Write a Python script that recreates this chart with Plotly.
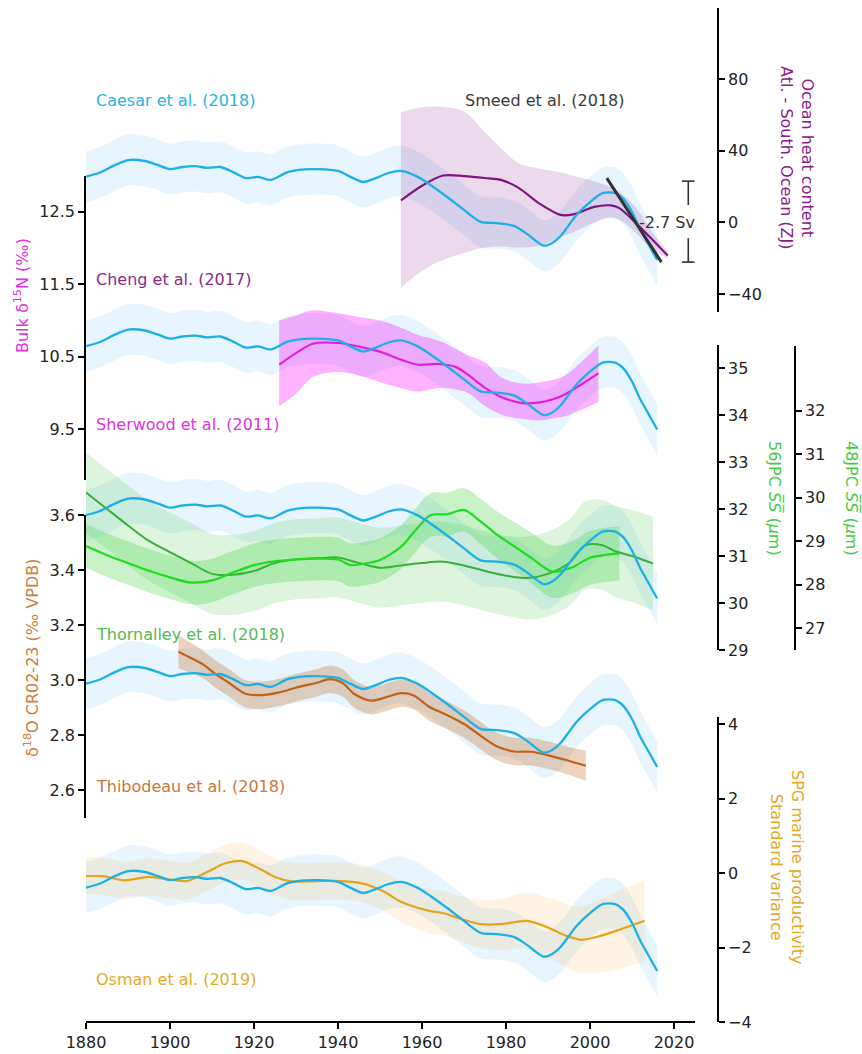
import plotly.graph_objects as go

# ---------------- DATA ----------------
# Caesar et al. (2018) AMOC index (Sv anomaly), same curve repeated in every panel
caesar_years = [1880, 1883, 1887, 1890, 1894, 1897, 1900, 1903, 1906, 1909, 1912, 1915, 1918, 1921,
                1924, 1928, 1932, 1935, 1940, 1943, 1946, 1949, 1952, 1955, 1959, 1962, 1966, 1970,
                1974, 1978, 1982, 1985, 1989, 1991, 1993, 1995, 1997, 2000, 2003, 2006, 2008, 2010,
                2012, 2014, 2016]
caesar_sv = [1.28, 1.40, 1.67, 1.83, 1.80, 1.67, 1.53, 1.60, 1.63, 1.57, 1.60, 1.43, 1.23, 1.27,
             1.17, 1.43, 1.52, 1.53, 1.47, 1.27, 1.10, 1.23, 1.40, 1.47, 1.27, 1.00, 0.60, 0.17,
             -0.23, -0.27, -0.37, -0.63, -1.02, -0.93, -0.70, -0.33, 0.03, 0.43, 0.73, 0.73, 0.53, 0.10,
             -0.50, -1.00, -1.50]
caesar_sigma = 0.85

# Smeed et al. (2018) RAPID trend (Sv)
smeed_years = [2004, 2017]
smeed_sv = [1.23, -1.57]
smeed_bracket_sv = [1.13, -1.57]   # -2.7 Sv

# Cheng et al. (2017) ocean heat content Atl. - South. Ocean (ZJ)
cheng_years = [1955, 1960, 1965, 1970, 1975, 1979, 1983, 1988, 1993, 1996, 2001, 2005, 2007, 2011, 2015, 2018.5]
cheng_zj = [12.3, 20.5, 26.2, 25.9, 24.8, 23.6, 19.3, 10.5, 4.2, 4.5, 8.7, 9.5, 8.0, -0.5, -10.0, -18.5]
cheng_hi = [61.5, 64.3, 64.5, 62.0, 50.3, 41.0, 33.0, 30.0, 28.0, 26.0, 23.0, 19.6, 17.0, 8.0, -6.0, -16.0]
cheng_lo = [-36.4, -27.0, -21.0, -17.0, -14.0, -13.5, -14.0, -13.0, -8.0, -5.5, 0.0, 2.8, 1.5, -6.0, -15.7, -20.0]

# Sherwood et al. (2011) bulk d15N (permil)
sher_years = [1926, 1930, 1934, 1940, 1945, 1950, 1955, 1959, 1964, 1968, 1971, 1975, 1979, 1984, 1988,
              1991, 1994, 1998, 2002]
sher_d15n = [10.39, 10.55, 10.68, 10.69, 10.64, 10.57, 10.46, 10.39, 10.40, 10.36, 10.25, 10.07, 9.94,
             9.86, 9.87, 9.91, 9.98, 10.12, 10.27]
sher_lo = [9.82, 9.99, 10.22, 10.29, 10.24, 10.15, 10.07, 10.02, 10.07, 10.05, 10.00, 9.82, 9.70, 9.64,
           9.62, 9.65, 9.68, 9.77, 9.88]
sher_hi = [11.00, 11.07, 11.14, 11.10, 11.05, 11.00, 10.90, 10.80, 10.72, 10.61, 10.52, 10.42, 10.21,
           10.13, 10.15, 10.18, 10.24, 10.43, 10.66]

# Thornalley et al. (2018) sortable silt (um)
jpc56_years = [1880, 1885, 1890, 1895, 1900, 1905, 1910, 1915, 1920, 1925, 1930, 1935, 1940, 1945, 1950,
               1955, 1960, 1965, 1970, 1975, 1980, 1985, 1990, 1995, 1999, 2003, 2006, 2010, 2015]
jpc56_ss = [32.35, 32.00, 31.65, 31.32, 31.08, 30.85, 30.62, 30.60, 30.68, 30.85, 30.93, 30.95, 30.97,
            30.85, 30.75, 30.80, 30.85, 30.88, 30.80, 30.68, 30.58, 30.53, 30.62, 30.85, 31.23, 31.23,
            31.10, 31.00, 30.84]
jpc56_err = [0.85, 0.85, 0.85, 0.85, 0.85, 0.85, 0.85, 0.85, 0.85, 0.85, 0.85, 0.85, 0.85, 0.85, 0.85,
             0.85, 0.85, 0.85, 0.85, 0.85, 0.85, 0.88, 0.9, 0.92, 0.94, 0.96, 0.97, 0.98, 1.0]
jpc48_years = [1880, 1885, 1890, 1895, 1900, 1905, 1910, 1915, 1920, 1925, 1930, 1935, 1940, 1943, 1947,
               1950, 1955, 1958, 1962, 1966, 1970, 1974, 1978, 1982, 1986, 1991, 1996, 2000, 2007]
jpc48_ss = [28.89, 28.68, 28.50, 28.32, 28.17, 28.05, 28.10, 28.28, 28.45, 28.54, 28.58, 28.60, 28.58,
            28.45, 28.50, 28.57, 28.87, 29.20, 29.60, 29.62, 29.72, 29.45, 29.14, 28.88, 28.62, 28.30,
            28.41, 28.62, 28.72]
jpc48_err = [0.5, 0.5, 0.5, 0.5, 0.5, 0.5, 0.5, 0.5, 0.5, 0.5, 0.5, 0.5, 0.5, 0.5, 0.5, 0.5, 0.5, 0.5,
             0.5, 0.5, 0.5, 0.52, 0.54, 0.56, 0.58, 0.6, 0.6, 0.62, 0.62]

# Thibodeau et al. (2018) d18O CR02-23 (permil VPDB)
thib_years = [1902, 1905, 1908, 1911, 1914, 1918, 1922, 1926, 1930, 1935, 1938, 1941, 1944, 1948, 1952,
              1955, 1958, 1962, 1966, 1970, 1974, 1978, 1982, 1986, 1990, 1994, 1999]
thib_d18o = [3.103, 3.080, 3.055, 3.020, 2.990, 2.950, 2.945, 2.955, 2.972, 2.990, 3.003, 2.990, 2.948,
             2.925, 2.940, 2.952, 2.944, 2.900, 2.872, 2.840, 2.797, 2.757, 2.740, 2.739, 2.726, 2.710, 2.688]
thib_err = [0.06, 0.055, 0.05, 0.05, 0.05, 0.05, 0.05, 0.05, 0.05, 0.05, 0.05, 0.05, 0.05, 0.05, 0.05,
            0.05, 0.05, 0.05, 0.05, 0.05, 0.05, 0.05, 0.05, 0.05, 0.05, 0.05, 0.055]

# Osman et al. (2019) SPG marine productivity (standard variance)
osman_years = [1880, 1884, 1889, 1895, 1900, 1904, 1909, 1913, 1917, 1921, 1925, 1929, 1935, 1941, 1946,
               1951, 1955, 1962, 1965, 1969, 1974, 1979, 1985, 1990, 1994, 1998, 2002, 2007, 2013]
osman_sv = [-0.08, -0.08, -0.19, -0.10, -0.17, -0.21, 0.04, 0.26, 0.33, 0.14, -0.10, -0.22, -0.21, -0.21,
            -0.28, -0.50, -0.77, -1.02, -1.07, -1.22, -1.37, -1.37, -1.28, -1.46, -1.67, -1.79, -1.70,
            -1.52, -1.28]
osman_err = [0.5, 0.5, 0.5, 0.5, 0.5, 0.5, 0.5, 0.5, 0.5, 0.5, 0.5, 0.5, 0.5, 0.5, 0.5, 0.52, 0.55, 0.6,
             0.6, 0.6, 0.65, 0.7, 0.75, 0.8, 0.85, 0.9, 0.98, 1.05, 1.1]

x_ticks = [1880, 1900, 1920, 1940, 1960, 1980, 2000, 2020]
d15n_ticks = [9.5, 10.5, 11.5, 12.5]
d18o_ticks = [2.6, 2.8, 3.0, 3.2, 3.4, 3.6]
ohc_ticks = [-40, 0, 40, 80]
jpc56_ticks = [29, 30, 31, 32, 33, 34, 35]
jpc48_ticks = [27, 28, 29, 30, 31, 32]
spg_ticks = [-4, -2, 0, 2, 4]

# ---------------- LAYOUT GEOMETRY ----------------
W, H = 862, 1054
PB = 1022          # plot area bottom pixel (plot area spans pixel rows 0..PB)
FONT = "DejaVu Sans"


def fx(px):
    return px / W


def fy(py):
    return (PB - py) / PB


C_CAESAR = "#1db0e6"
C_CAESAR_BAND = "rgba(135,206,250,0.21)"
C_CHENG = "#7f157f"
C_SHER = "#e01ee0"
C_J56 = "#3cae3c"
C_J48 = "#1fdc1f"
C_THIB = "#c0621c"
C_OSMAN = "#e4a41c"

# axis ids: Caesar bands (hidden) first, then proxies, then Caesar lines (hidden) on top
band_axes = ["y", "y2", "y3", "y4", "y5"]
AX_D15N, AX_D18O, AX_OHC, AX_J56, AX_J48, AX_SPG = "y6", "y7", "y8", "y9", "y10", "y11"
line_axes = ["y12", "y13", "y14", "y15", "y16"]

fig = go.Figure()


def add_band(xs, lo, hi, color, yaxis):
    fig.add_trace(go.Scatter(x=xs, y=lo, mode="lines", line=dict(width=0, shape="spline"),
                             yaxis=yaxis, hoverinfo="skip", showlegend=False))
    fig.add_trace(go.Scatter(x=xs, y=hi, mode="lines", line=dict(width=0, shape="spline"),
                             fill="tonexty", fillcolor=color, yaxis=yaxis,
                             hoverinfo="skip", showlegend=False))


def add_line(xs, ys, color, yaxis, width=2.2):
    fig.add_trace(go.Scatter(x=xs, y=ys, mode="lines",
                             line=dict(color=color, width=width, shape="spline", smoothing=0.8),
                             yaxis=yaxis, hoverinfo="skip", showlegend=False))


# Caesar uncertainty bands (bottom layer)
c_lo = [v - caesar_sigma for v in caesar_sv]
c_hi = [v + caesar_sigma for v in caesar_sv]
for ax in band_axes:
    add_band(caesar_years, c_lo, c_hi, C_CAESAR_BAND, ax)

# Cheng (OHC)
add_band(cheng_years, cheng_lo, cheng_hi, "rgba(128,0,128,0.15)", AX_OHC)
add_line(cheng_years, cheng_zj, C_CHENG, AX_OHC)

# Sherwood (d15N)
add_band(sher_years, sher_lo, sher_hi, "rgba(255,0,255,0.30)", AX_D15N)
add_line(sher_years, sher_d15n, C_SHER, AX_D15N)

# Thornalley 56JPC and 48JPC
add_band(jpc56_years, [v - e for v, e in zip(jpc56_ss, jpc56_err)],
         [v + e for v, e in zip(jpc56_ss, jpc56_err)], "rgba(100,205,100,0.22)", AX_J56)
add_band(jpc48_years, [v - e for v, e in zip(jpc48_ss, jpc48_err)],
         [v + e for v, e in zip(jpc48_ss, jpc48_err)], "rgba(40,205,40,0.25)", AX_J48)
add_line(jpc56_years, jpc56_ss, C_J56, AX_J56, 2.0)
add_line(jpc48_years, jpc48_ss, C_J48, AX_J48, 2.2)

# Thibodeau (d18O)
add_band(thib_years, [v - e for v, e in zip(thib_d18o, thib_err)],
         [v + e for v, e in zip(thib_d18o, thib_err)], "rgba(195,105,40,0.30)", AX_D18O)
add_line(thib_years, thib_d18o, C_THIB, AX_D18O)

# Osman (SPG)
add_band(osman_years, [v - e for v, e in zip(osman_sv, osman_err)],
         [v + e for v, e in zip(osman_sv, osman_err)], "rgba(255,170,40,0.13)", AX_SPG)
add_line(osman_years, osman_sv, C_OSMAN, AX_SPG)

# Caesar lines (top layer)
for ax in line_axes:
    add_line(caesar_years, caesar_sv, C_CAESAR, ax, 2.3)

# Smeed trend and bracket on the top Caesar axis
fig.add_trace(go.Scatter(x=smeed_years, y=smeed_sv, mode="lines",
                         line=dict(color="#333333", width=3), yaxis=line_axes[0],
                         hoverinfo="skip", showlegend=False))
bx, cap = 2023.4, 1.5
top, bot = smeed_bracket_sv
gap_top, gap_bot = 0.33, -0.77
fig.add_trace(go.Scatter(
    x=[bx - cap, bx + cap, None, bx, bx, None, bx, bx, None, bx - cap, bx + cap],
    y=[top, top, None, top, gap_top, None, gap_bot, bot, None, bot, bot],
    mode="lines", line=dict(color="#333333", width=1.6), yaxis=line_axes[0],
    hoverinfo="skip", showlegend=False))

# ---------------- AXES ----------------
tickfont = dict(family=FONT, size=16, color="#222222")
common = dict(showline=True, linecolor="black", linewidth=1.7, ticks="outside", ticklen=6,
              tickwidth=1.6, tickcolor="black", tickfont=tickfont, showgrid=False,
              zeroline=False, automargin=False, fixedrange=True)


def key(ax):
    return "yaxis" + ax[1:]


layout = dict(
    width=W, height=H, margin=dict(l=0, r=0, t=0, b=H - PB), autosize=False,
    paper_bgcolor="white", plot_bgcolor="rgba(0,0,0,0)", template="none",
    font=dict(family=FONT, size=16, color="#222222"), showlegend=False,
    xaxis=dict(domain=[fx(86), fx(695)], range=[1880, 2025], tickvals=x_ticks,
               anchor="free", position=0, **common),
)
layout[key(AX_D15N)] = dict(domain=[fy(480), fy(175.5)], range=[8.8, 13.0], tickvals=d15n_ticks,
                            tickformat=".1f", anchor="x", side="left", **common)
layout[key(AX_D18O)] = dict(domain=[fy(817.5), fy(515)], range=[2.5, 3.6], tickvals=d18o_ticks,
                            tickformat=".1f", anchor="x", side="left", **common)
layout[key(AX_OHC)] = dict(domain=[fy(312), fy(7.5)], range=[-50, 120], tickvals=ohc_ticks,
                           anchor="free", position=fx(718), side="right", **common)
layout[key(AX_J56)] = dict(domain=[fy(650), fy(344.5)], range=[29, 35.5], tickvals=jpc56_ticks,
                           anchor="free", position=fx(718), side="right", **common)
layout[key(AX_J48)] = dict(domain=[fy(650), fy(345.5)], range=[26.5, 33.5], tickvals=jpc48_ticks,
                           anchor="free", position=fx(795), side="right", **common)
layout[key(AX_SPG)] = dict(domain=[0, fy(717)], range=[-4, 4.2], tickvals=spg_ticks,
                           anchor="free", position=fx(718), side="right", **common)

caesar_ref_px = 215
px_per_sv = 30.0
caesar_shift_px = [0, 169.5, 338.5, 507, 711]
for group in (band_axes, line_axes):
    for ax, d in zip(group, caesar_shift_px):
        layout[key(ax)] = dict(domain=[0, 1], anchor="x", visible=False, fixedrange=True,
                               range=[(caesar_ref_px + d - PB) / px_per_sv,
                                      (caesar_ref_px + d) / px_per_sv])
fig.update_layout(**layout)

# ---------------- TEXT ----------------
def label(text, px, py, color, xanchor="left", angle=0, size=16):
    fig.add_annotation(text=text, x=fx(px), y=fy(py), xref="paper", yref="paper",
                       xanchor=xanchor, yanchor="middle", showarrow=False, textangle=angle,
                       font=dict(family=FONT, size=size, color=color))

label("Caesar et al. (2018)", 94, 100, "#2ab3e3")
label("Smeed et al. (2018)", 545, 100, "#3a3a3a", "center")
label("Cheng et al. (2017)", 94, 279, "#8a2a8a")
label("Sherwood et al. (2011)", 94, 424, "#dd33dd")
label("Thornalley et al. (2018)", 94, 634, "#55bb55")
label("Thibodeau et al. (2018)", 94, 786, "#c8783c")
label("Osman et al. (2019)", 94, 979, "#e6aa2a")
label("-2.7 Sv", 667, 222, "#333333", "center")

label("Bulk δ<sup>15</sup>N (‰)", 21, 296, "#e030e0", "center", -90)
label("δ<sup>18</sup>O CR02-23 (‰ VPDB)", 31, 658, "#d07c3a", "center", -90)
label("Ocean heat content<br>Atl. - South. Ocean (ZJ)", 797, 158, "#8a1a8a", "center", 90)
label("56JPC <i>S̅S̅</i> (<i>μ</i>m)", 775, 498, "#44cc44", "center", 90)
label("48JPC <i>S̅S̅</i> (<i>μ</i>m)", 852, 498, "#44cc44", "center", 90)
label("SPG marine productivity<br>Standard variance", 787, 867, "#e6a820", "center", 90)

fig.write_html("out.html", config={"displayModeBar": False},
               post_script="document.body.style.margin='0';document.body.style.overflow='hidden';")
